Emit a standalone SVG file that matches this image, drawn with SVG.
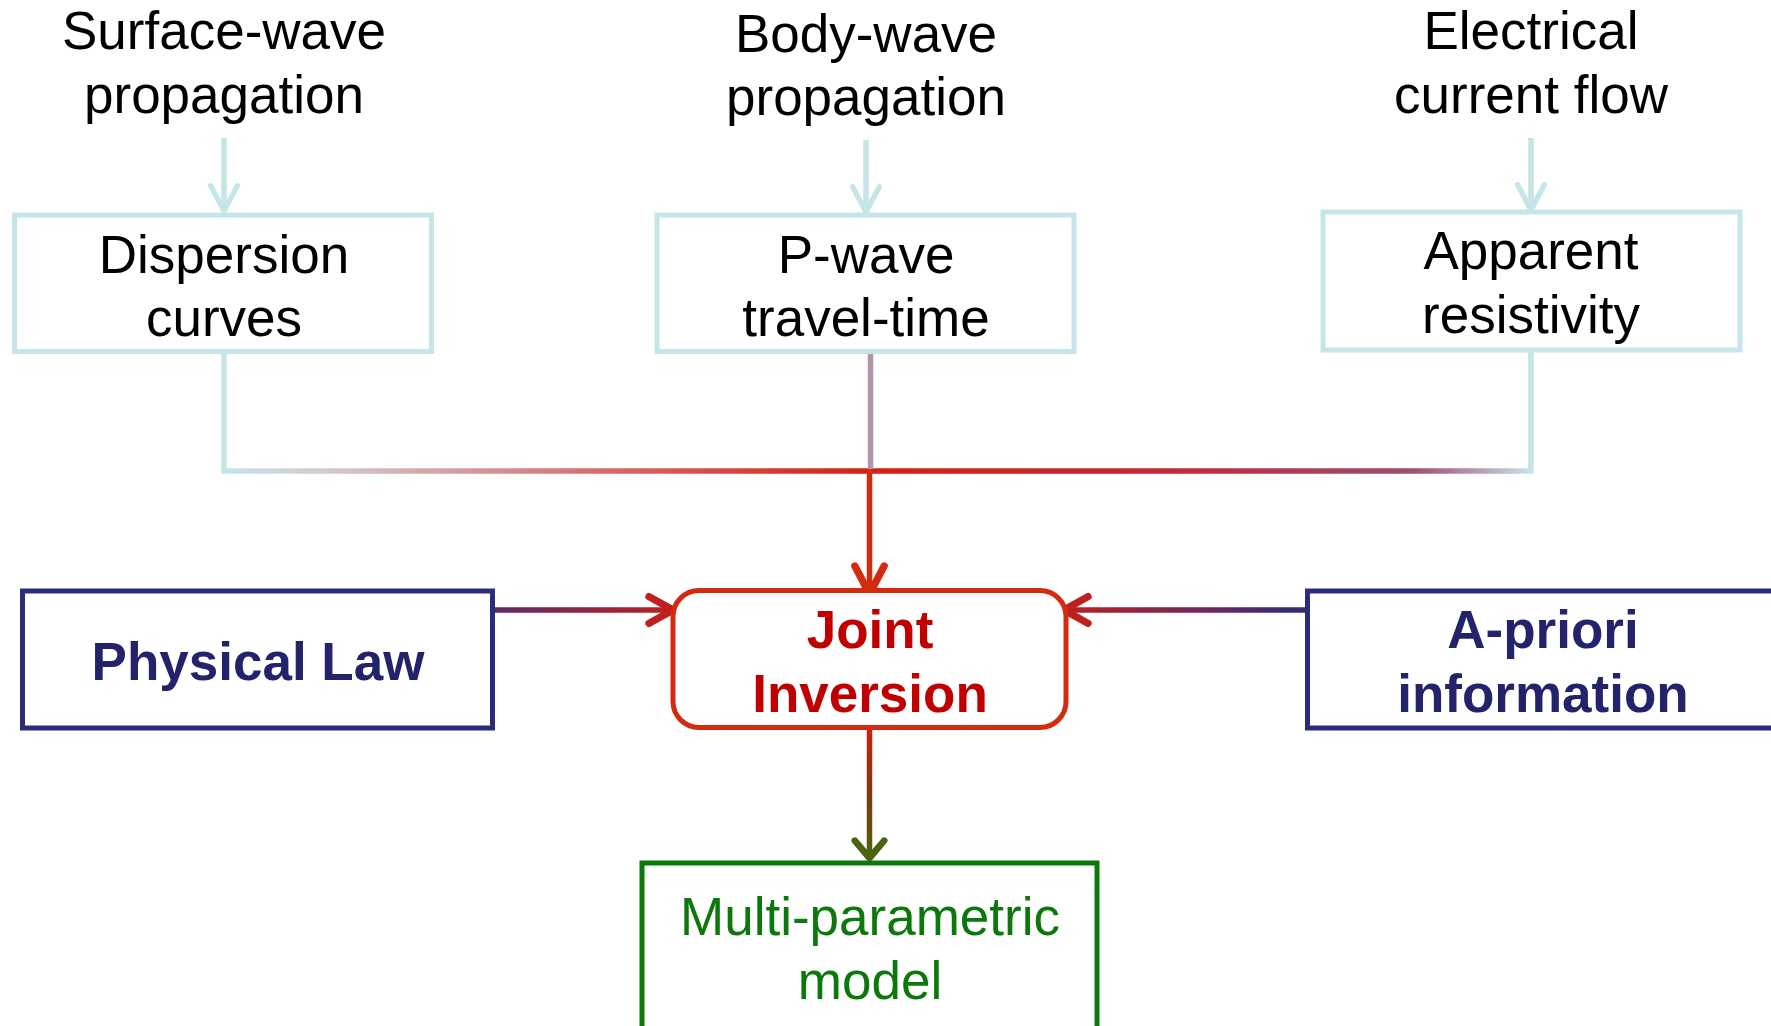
<svg xmlns="http://www.w3.org/2000/svg" width="1771" height="1026" viewBox="0 0 1771 1026">
<style>
text{font-family:"Liberation Sans",Arial,sans-serif;font-size:53px;text-anchor:middle}
.blk{fill:#000}
.nav{fill:#23236B;font-weight:bold}
.red{fill:#C00000;font-weight:bold}
.grn{fill:#0A780A}
.cbox{fill:#fff;stroke:#C5E5E8;stroke-width:5}
.nbox{fill:#fff;stroke:#2B2D78;stroke-width:5}
.rbox{fill:#fff;stroke:#D42A10;stroke-width:5}
.gbox{fill:#fff;stroke:#0A780A;stroke-width:5}
.con{fill:none;stroke-width:5.5}
</style>
<defs>
<marker id="mc" markerUnits="userSpaceOnUse" orient="auto" refX="0" refY="0" markerWidth="40" markerHeight="40" viewBox="-25 -15 30 30" overflow="visible">
<path d="M-19,-10 L0,0 L-19,10" fill="none" stroke="#C5E5E8" stroke-width="4" stroke-linecap="round" stroke-linejoin="round"/>
</marker>
<marker id="mr" markerUnits="userSpaceOnUse" orient="auto" refX="0" refY="0" markerWidth="40" markerHeight="40" viewBox="-25 -15 30 30" overflow="visible">
<path d="M-21,-11 L0,0 L-21,11" fill="none" stroke="#D42A10" stroke-width="5.5" stroke-linecap="round" stroke-linejoin="round"/>
</marker>
<marker id="mh" markerUnits="userSpaceOnUse" orient="auto" refX="0" refY="0" markerWidth="40" markerHeight="40" viewBox="-25 -15 30 30" overflow="visible">
<path d="M-18,-10 L0,0 L-18,10" fill="none" stroke="#BE2020" stroke-width="5.5" stroke-linecap="round" stroke-linejoin="round"/>
</marker>
<marker id="mg" markerUnits="userSpaceOnUse" orient="auto" refX="0" refY="0" markerWidth="40" markerHeight="40" viewBox="-25 -15 30 30" overflow="visible">
<path d="M-13,-11 L0,0 L-13,11" fill="none" stroke="#4A6410" stroke-width="5" stroke-linecap="round" stroke-linejoin="round"/>
</marker>
<linearGradient id="g1" gradientUnits="userSpaceOnUse" x1="224" y1="0" x2="870" y2="0">
<stop offset="0" stop-color="#C5E5E8"/>
<stop offset="0.15" stop-color="#D2CCCF"/>
<stop offset="0.55" stop-color="#D67274"/>
<stop offset="1" stop-color="#D4200F"/>
</linearGradient>
<linearGradient id="g2" gradientUnits="userSpaceOnUse" x1="870" y1="0" x2="1531" y2="0">
<stop offset="0" stop-color="#D4200F"/>
<stop offset="0.45" stop-color="#C42838"/>
<stop offset="0.82" stop-color="#9C4E70"/>
<stop offset="0.92" stop-color="#B69CAE"/>
<stop offset="1" stop-color="#C5E5E8"/>
</linearGradient>
<linearGradient id="g3" gradientUnits="userSpaceOnUse" x1="493" y1="0" x2="673" y2="0">
<stop offset="0" stop-color="#5C2A68"/>
<stop offset="1" stop-color="#BE2020"/>
</linearGradient>
<linearGradient id="g4" gradientUnits="userSpaceOnUse" x1="1307" y1="0" x2="1064" y2="0">
<stop offset="0" stop-color="#2E2C74"/>
<stop offset="0.4" stop-color="#6A2860"/>
<stop offset="1" stop-color="#BE2020"/>
</linearGradient>
<linearGradient id="g5" gradientUnits="userSpaceOnUse" x1="0" y1="729" x2="0" y2="858">
<stop offset="0" stop-color="#CC2010"/>
<stop offset="0.5" stop-color="#7A3A10"/>
<stop offset="1" stop-color="#4A6410"/>
</linearGradient>
</defs>

<g id="connectors">
<path class="con" d="M224,138 V211" stroke="#C5E5E8" stroke-width="4" marker-end="url(#mc)"/>
<path class="con" d="M866,140 V212" stroke="#C5E5E8" stroke-width="4" marker-end="url(#mc)"/>
<path class="con" d="M1531,138 V210" stroke="#C5E5E8" stroke-width="4" marker-end="url(#mc)"/>
<path class="con" d="M224,353 V471 H870" stroke="url(#g1)"/>
<path class="con" d="M1531,352 V471 H870" stroke="url(#g2)"/>
<path class="con" d="M870.5,353 V469" stroke="#B195A8"/>
<path class="con" d="M869.5,469 V594" stroke="#D42A10" marker-end="url(#mr)"/>
<path class="con" d="M495,610 H673" stroke="url(#g3)" marker-end="url(#mh)"/>
<path class="con" d="M1305,610 H1064" stroke="url(#g4)" marker-end="url(#mh)"/>
<path class="con" d="M869.5,729 V858" stroke="url(#g5)" stroke-width="5" marker-end="url(#mg)"/>
</g>

<g id="label-surface">
<text class="blk" x="224" y="49">Surface-wave</text>
<text class="blk" x="224" y="113">propagation</text>
</g>
<g id="label-body">
<text class="blk" x="866" y="52">Body-wave</text>
<text class="blk" x="866" y="115">propagation</text>
</g>
<g id="label-electrical">
<text class="blk" x="1531" y="49">Electrical</text>
<text class="blk" x="1531" y="113">current flow</text>
</g>

<g id="node-dispersion">
<rect class="cbox" x="14.5" y="215" width="417" height="136.5"/>
<text class="blk" x="224" y="273">Dispersion</text>
<text class="blk" x="224" y="336">curves</text>
</g>
<g id="node-pwave">
<rect class="cbox" x="657" y="215" width="417" height="136.5"/>
<text class="blk" x="866" y="273">P-wave</text>
<text class="blk" x="866" y="336">travel-time</text>
</g>
<g id="node-apparent">
<rect class="cbox" x="1323" y="212" width="417" height="138"/>
<text class="blk" x="1531" y="269">Apparent</text>
<text class="blk" x="1531" y="333">resistivity</text>
</g>

<g id="node-physical">
<rect class="nbox" x="22.5" y="591" width="470" height="137"/>
<text class="nav" x="258" y="680">Physical Law</text>
</g>
<g id="node-joint">
<rect class="rbox" x="673" y="590.5" width="393" height="137" rx="26" ry="26"/>
<text class="red" x="870" y="648">Joint</text>
<text class="red" x="870" y="712">Inversion</text>
</g>
<g id="node-apriori">
<rect class="nbox" x="1307.5" y="591" width="500" height="137"/>
<text class="nav" x="1543" y="648">A-priori</text>
<text class="nav" x="1543" y="712">information</text>
</g>
<g id="node-multi">
<rect class="gbox" x="642" y="863" width="455" height="200"/>
<text class="grn" x="870" y="935">Multi-parametric</text>
<text class="grn" x="870" y="999">model</text>
</g>
</svg>
